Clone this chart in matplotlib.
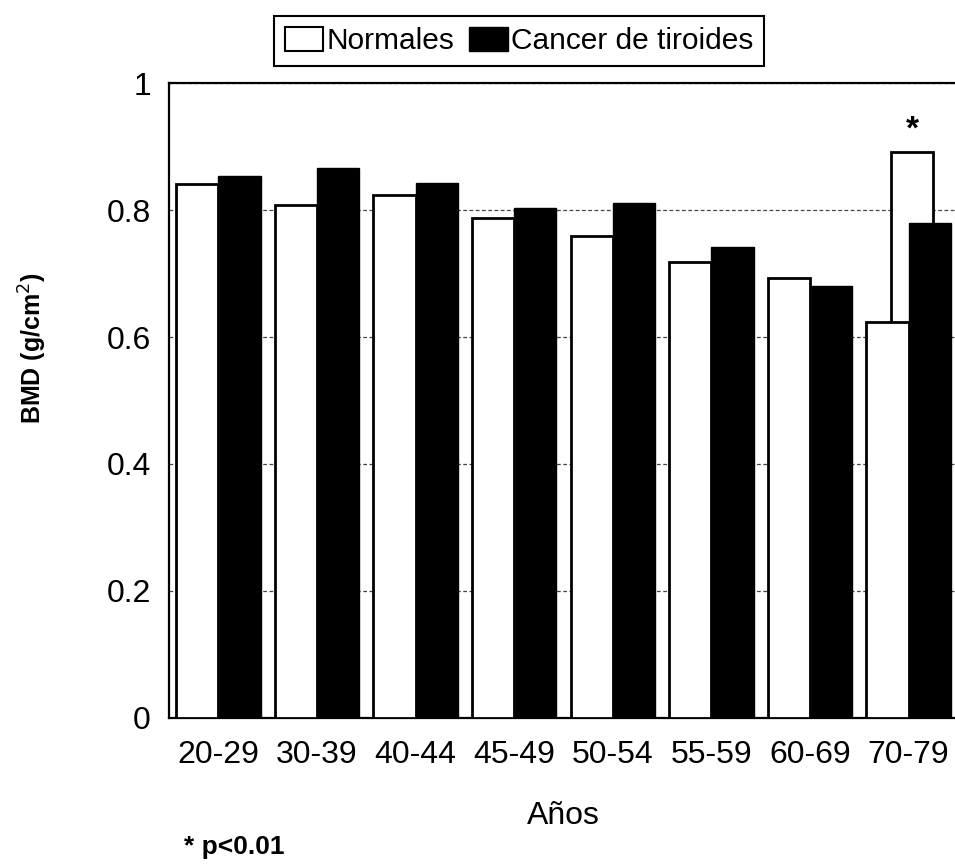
import matplotlib
matplotlib.use("Agg")
import matplotlib.pyplot as plt
import numpy as np
from matplotlib.patches import Patch

categories = ['20-29', '30-39', '40-44', '45-49', '50-54', '55-59', '60-69', '70-79']
normales = [0.841, 0.808, 0.824, 0.787, 0.759, 0.718, 0.693, 0.624]
cancer = [0.854, 0.866, 0.843, 0.803, 0.811, 0.742, 0.680, 0.780]
# extra outlined box drawn in the 70-79 group
extra_group = 7
extra_value = 0.891
yticks = [0, 0.2, 0.4, 0.6, 0.8, 1.0]
ytick_labels = ['0', '0.2', '0.4', '0.6', '0.8', '1']

plt.rcParams['font.family'] = ['Liberation Sans', 'DejaVu Sans']

fig = plt.figure(figsize=(9.55, 8.65), dpi=100)
ax = fig.add_axes([0.177, 0.170, 0.826, 0.734])

x = np.arange(len(categories))
w = 0.428

# extra outlined bar (behind)
ax.bar(extra_group + 0.035, extra_value, width=w, color='white', edgecolor='black',
       linewidth=2, zorder=2)
ax.bar(x - w / 2, normales, width=w, color='white', edgecolor='black', linewidth=2, zorder=3)
ax.bar(x + w / 2, cancer, width=w, color='black', edgecolor='black', linewidth=1, zorder=3)

ax.set_xlim(-0.5, 7.5)
ax.set_ylim(0, 1)
ax.set_yticks(yticks)
ax.set_yticklabels(ytick_labels)
ax.set_xticks(x)
ax.set_xticklabels(categories)
ax.tick_params(axis='both', length=0, labelsize=23)
ax.tick_params(axis='x', pad=16)
ax.tick_params(axis='y', pad=13)

ax.yaxis.grid(True, linestyle=(0, (3, 2)), color='#444444', linewidth=0.9)
ax.set_axisbelow(True)
for s in ['top', 'left', 'bottom', 'right']:
    ax.spines[s].set_linewidth(1.6)
    ax.spines[s].set_color('black')

ax.set_xlabel('Años', fontsize=23, labelpad=22)
fig.text(33 / 955, 1 - 348 / 865, 'BMD (g/cm$^{2}$)', fontsize=18, fontweight='bold',
         rotation=90, ha='center', va='center')

ax.text(extra_group + 0.035, extra_value + 0.035, '*', ha='center', va='center',
        fontsize=24, fontweight='bold')

fig.text(0.193, 1 - 847 / 865, '* p<0.01', fontsize=19, fontweight='bold', ha='left', va='center')

handles = [Patch(facecolor='white', edgecolor='black', linewidth=1.5),
           Patch(facecolor='black', edgecolor='black')]
leg = fig.legend(handles, ['Normales', 'Cancer de tiroides'], loc='center',
                 bbox_to_anchor=(0.5435, 0.9526), ncol=2, fontsize=21.5,
                 fancybox=False, edgecolor='black', framealpha=1,
                 handlelength=1.3, handleheight=0.9, handletextpad=0.1,
                 columnspacing=0.5, borderpad=0.35, borderaxespad=0)
leg.get_frame().set_linewidth(1.5)

fig.savefig('out.png', dpi=100)
